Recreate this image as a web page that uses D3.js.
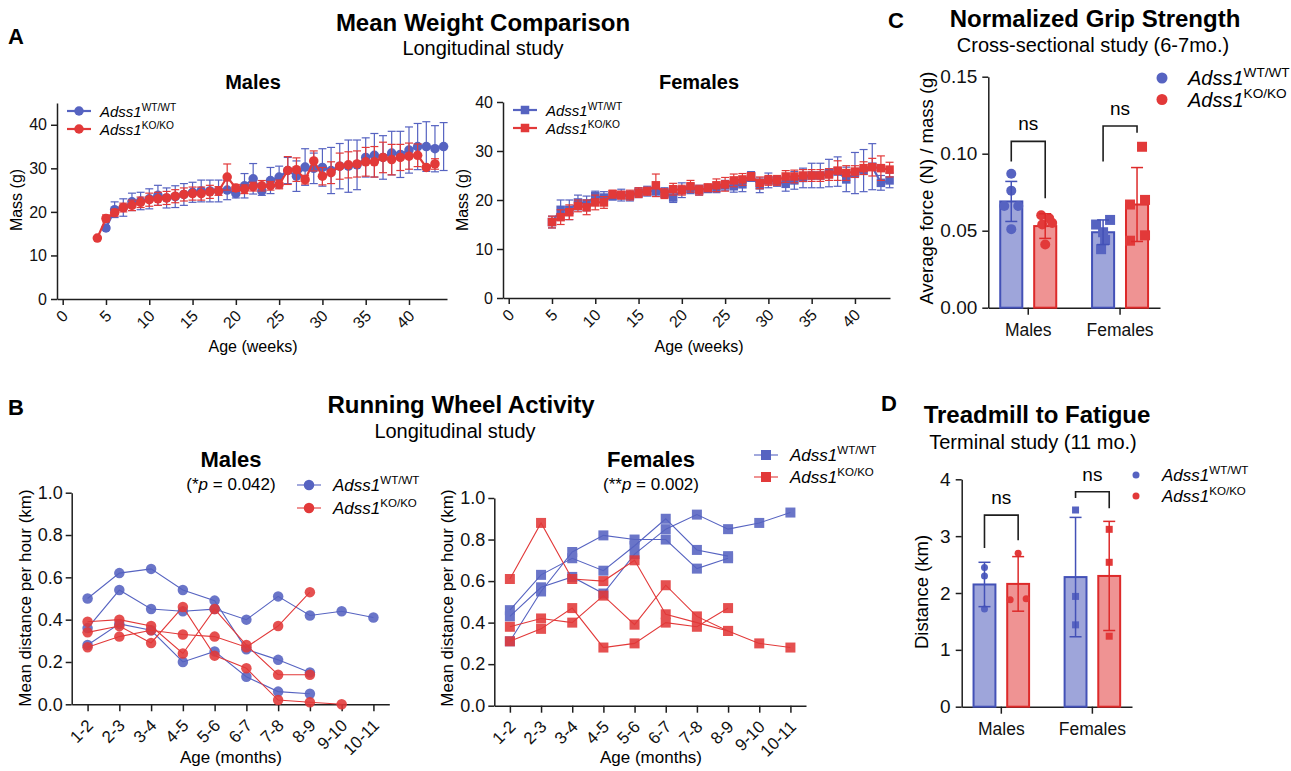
<!DOCTYPE html>
<html>
<head>
<meta charset="utf-8">
<title>Adss1 phenotype panels</title>
<style>
  body { margin: 0; background: #fff; }
  svg { font-family: "Liberation Sans", Arial, Helvetica, sans-serif; }
</style>
<script src="https://cdn.jsdelivr.net/npm/d3@7"></script>
</head>
<body>
<script>
// ---------------- data ----------------
var genotypes = ["WT/WT", "KO/KO"];
var weekTicks = [0, 5, 10, 15, 20, 25, 30, 35, 40];

// A - mean weight (g), males
var maleWtWeeks = d3.range(5, 45);
var maleWtMass = [16.3, 20.5, 21, 22.3, 22.5, 23, 23.8, 23.2, 23.5, 24,
                  24.5, 24.8, 24.8, 24.8, 25, 24.2, 26, 27.6, 24.8, 27.2,
                  28, 29.5, 28.2, 30.3, 30, 30.2, 29.5, 30.5, 30.5, 30.8,
                  32.5, 33, 32.5, 33.5, 33.2, 34.2, 35, 35, 34.5, 35];
var maleWtSd = [0.5, 1.8, 2.0, 2.0, 2.0, 2.3, 2.3, 2.3, 2.5, 2.5,
                2.3, 2.5, 2.5, 2.5, 2.2, 1.0, 2.8, 3.5, 1.0, 3.0,
                2.5, 3.0, 3.5, 4.2, 3.5, 4.3, 5.3, 5.2, 6.0, 5.7,
                4.5, 5.0, 5.0, 5.0, 5.3, 5.3, 5.3, 5.7, 5.3, 5.5];
var maleKoWeeks = d3.range(4, 44);
var maleKoMass = [14, 18.5, 19.8, 21, 21.5, 22.2, 22.8, 23, 23.2, 23.6,
                  24, 24.2, 24.2, 24.6, 24.8, 28, 25.5, 25.2, 25.8, 26,
                  26, 26.3, 29.5, 29.7, 27.4, 31.7, 28.2, 29, 30.5, 30.8,
                  31, 31.5, 31.5, 32.5, 32, 32.5, 32.8, 33, 30.2, 31];
var maleKoSd = [0, 0.8, 0.8, 1.0, 1.2, 1.2, 1.5, 1.5, 1.5, 1.5,
                1.5, 1.5, 1.5, 1.5, 1.0, 3.0, 0.8, 1.0, 1.0, 1.2,
                1.0, 1.0, 3.2, 2.7, 1.0, 2.3, 2.0, 2.5, 3.0, 3.0,
                3.0, 3.3, 3.5, 3.5, 3.5, 3.0, 3.0, 2.6, 0.5, 1.2];

// A - mean weight (g), females
var femaleWeeks = d3.range(5, 45);
var femaleWtMass = [15.5, 18, 18, 19.5, 19.3, 20.8, 20.5, 20.8, 21, 20.8,
                    21.5, 21.8, 21.8, 21.5, 20.5, 22, 22.3, 22, 22.3, 22.5,
                    23, 22.8, 23.2, 24.8, 23, 24, 23.8, 23.3, 24, 24.5,
                    25, 25, 25.5, 25.8, 24.2, 25.5, 26, 26.8, 23.5, 24];
var femaleWtSd = [1.2, 2.0, 2.0, 1.5, 1.5, 1.0, 1.2, 0.8, 1.2, 1.0,
                  1.0, 1.0, 1.0, 1.0, 1.0, 1.5, 1.0, 1.0, 0.8, 1.0,
                  1.0, 1.2, 1.5, 1.0, 1.5, 1.5, 1.0, 1.5, 1.8, 2.0,
                  2.5, 2.5, 2.8, 3.0, 2.5, 4.2, 4.3, 4.7, 1.5, 1.5];
var femaleKoMass = [15.5, 16.5, 17.5, 18.8, 18.5, 19.5, 19.5, 21.2, 21, 21,
                    21.5, 21.8, 23, 21.3, 22.2, 22, 22.8, 22, 22.5, 23,
                    23.2, 24, 24.2, 24.8, 23.5, 24, 24, 24.8, 24.8, 25,
                    25, 25, 25.2, 26, 25.5, 25.8, 26.5, 26.7, 26.5, 26.2];
var femaleKoSd = [1.2, 1.5, 1.5, 1.2, 1.5, 1.5, 1.2, 0.8, 0.8, 1.0,
                  1.0, 0.8, 2.3, 1.0, 1.2, 1.0, 1.2, 1.0, 0.8, 1.3,
                  1.4, 1.3, 1.2, 0.8, 1.2, 1.0, 1.0, 1.2, 1.3, 1.2,
                  1.2, 1.2, 1.2, 2.0, 1.5, 1.2, 1.3, 1.8, 2.5, 1.5];

// B - running wheel, mean km per hour, one array per animal
var monthLabels = ["1-2", "2-3", "3-4", "4-5", "5-6", "6-7", "7-8", "8-9", "9-10", "10-11"];
var wheelMaleWt = [
  [0.50, 0.62, 0.64, 0.54, 0.49, 0.26, 0.21, 0.15],
  [0.36, 0.54, 0.45, 0.44, 0.45, 0.40, 0.51, 0.42, 0.44, 0.41],
  [0.28, 0.38, 0.35, 0.20, 0.25, 0.13, 0.06, 0.05]
];
var wheelMaleKo = [
  [0.39, 0.40, 0.37, 0.24, 0.45, 0.28, 0.14, 0.14],
  [0.34, 0.37, 0.29, 0.46, 0.23, 0.17, 0.02, 0.01, 0.00],
  [0.27, 0.32, 0.35, 0.33, 0.32, 0.27, 0.37, 0.53]
];
var wheelFemaleWt = [
  [0.46, 0.63, 0.71, 0.65, 0.77, 0.90, 0.75, 0.72],
  [0.43, 0.57, 0.62, 0.54, 0.73, 0.85, 0.92, 0.85, 0.88, 0.93],
  [0.31, 0.55, 0.74, 0.82, 0.80, 0.80, 0.66, 0.71]
];
var wheelFemaleKo = [
  [0.61, 0.88, 0.61, 0.60, 0.70, 0.44, 0.40, 0.36, 0.30, 0.28],
  [0.38, 0.42, 0.40, 0.53, 0.39, 0.58, 0.43, 0.36],
  [0.31, 0.37, 0.47, 0.28, 0.30, 0.40, 0.38, 0.47]
];

// C - grip strength, N / g
var sexGroups = ["Males", "Females"];
var gripMeanWt = [0.069, 0.049];
var gripMeanKo = [0.053, 0.067];
var gripSdWt = [0.013, 0.008];
var gripSdKo = [0.008, 0.024];
var gripPtsWt = [[0.087, 0.076, 0.066, 0.066, 0.051], [0.054, 0.057, 0.049, 0.044, 0.038]];
var gripPtsKo = [[0.060, 0.058, 0.054, 0.055, 0.041], [0.1045, 0.067, 0.070, 0.047, 0.0435]];
var gripBracketTop = [0.108, 0.118];
var gripBracketLeft = [0.095, 0.095];
var gripBracketRight = [0.071, 0.1136];
var gripTicks = [0, 0.05, 0.10, 0.15];

// D - treadmill distance, km
var treadMeanWt = [2.15, 2.28];
var treadMeanKo = [2.16, 2.30];
var treadSdWt = [0.39, 1.05];
var treadSdKo = [0.48, 0.96];
var treadPtsWt = [[2.45, 2.30, 1.72], [3.46, 1.94, 1.44]];
var treadPtsKo = [[2.70, 1.88, 1.90], [3.12, 2.54, 1.24]];
var treadBracketTop = [3.37, 3.78];
var treadBracketLeft = [2.79, 3.67];
var treadBracketRight = [2.93, 3.49];
var treadTicks = [0, 1, 2, 3, 4];

// ---------------- styles ----------------
var BLUE = "#5663c1", RED = "#e23939";
var BLUE_FILL = "#9ea5da", RED_FILL = "#ef9393";
var BLUE_EDGE = "#4351b7", RED_EDGE = "#dd2a2a";
var INK = "#1e1e1e";

var svg = d3.select("body").append("svg")
    .attr("width", 1291)
    .attr("height", 771);

function addText(x, y, str, size, weight, anchor) {
    return svg.append("text")
        .attr("x", x).attr("y", y)
        .attr("font-size", size)
        .attr("font-weight", weight || "normal")
        .attr("text-anchor", anchor || "middle")
        .attr("fill", "#000")
        .text(str);
}

function yTitle(cx, cy, str, size) {
    svg.append("text")
        .attr("transform", "translate(" + cx + "," + cy + ") rotate(-90)")
        .attr("dy", "0.35em")
        .attr("text-anchor", "middle")
        .attr("font-size", size)
        .text(str);
}

function legendLabel(x, y, sup, size) {
    var t = svg.append("text").attr("x", x).attr("y", y).attr("font-size", size);
    t.append("tspan").style("font-style", "italic").text("Adss1");
    t.append("tspan").attr("dy", -size * 0.42).attr("font-size", size * 0.68).text(sup);
}

function styleAxis(g, size) {
    g.attr("font-family", null).attr("font-size", size);
    g.select(".domain").attr("stroke", INK).attr("stroke-width", 1.5);
    g.selectAll(".tick line").attr("stroke", INK).attr("stroke-width", 1.5);
    g.selectAll(".tick text").attr("fill", "#111");
}

function rotateTicks(g, dx, dy) {
    g.selectAll(".tick text")
        .attr("x", 0).attr("y", 0).attr("dy", "0.35em")
        .attr("text-anchor", "end")
        .attr("transform", "translate(" + dx + "," + dy + ") rotate(-45)");
}

function marker(g, shape, cx, cy, size, color) {
    if (shape === "circle") {
        g.append("circle").attr("cx", cx).attr("cy", cy).attr("r", size / 2).attr("fill", color);
    } else {
        g.append("rect").attr("x", cx - size / 2).attr("y", cy - size / 2)
            .attr("width", size).attr("height", size).attr("fill", color);
    }
}

// ---------------- titles ----------------
addText(8, 44, "A", 22, "bold", "start");
addText(483, 31, "Mean Weight Comparison", 24, "bold");
addText(483, 55, "Longitudinal study", 20);
addText(8, 415, "B", 22, "bold", "start");
addText(461, 413, "Running Wheel Activity", 24, "bold");
addText(455, 438, "Longitudinal study", 20);
addText(888, 28, "C", 22, "bold", "start");
addText(1095, 27, "Normalized Grip Strength", 24, "bold");
addText(1093, 52, "Cross-sectional study (6-7mo.)", 20);
addText(881, 411, "D", 22, "bold", "start");
addText(1037, 423, "Treadmill to Fatigue", 24, "bold");
addText(1033, 449, "Terminal study (11 mo.)", 20);

// ---------------- A: weight panels ----------------
function weightPanel(o) {
    var x = d3.scaleLinear().domain(o.xDomain).range(o.xRange);
    var y = d3.scaleLinear().domain(o.yDomain).range([o.yBottom, o.yTop]);

    var gx = svg.append("g")
        .attr("transform", "translate(0," + o.yBottom + ")")
        .call(d3.axisBottom(x).tickValues(weekTicks).tickSize(6).tickSizeOuter(0));
    styleAxis(gx, 16);
    rotateTicks(gx, 2, 14);

    var gy = svg.append("g")
        .attr("transform", "translate(" + o.xRange[0] + ",0)")
        .call(d3.axisLeft(y).tickValues([0, 10, 20, 30, 40]).tickSize(6).tickPadding(4).tickSizeOuter(0));
    styleAxis(gy, 16);

    o.series.forEach(function (s) {
        var g = svg.append("g");
        s.mass.forEach(function (m, i) {
            var cx = x(s.weeks[i]);
            if (s.sd[i] > 0) {
                g.append("line").attr("x1", cx).attr("x2", cx)
                    .attr("y1", y(m - s.sd[i])).attr("y2", y(m + s.sd[i]))
                    .attr("stroke", s.color).attr("stroke-width", 1.2);
                [m - s.sd[i], m + s.sd[i]].forEach(function (v) {
                    g.append("line").attr("x1", cx - 4).attr("x2", cx + 4)
                        .attr("y1", y(v)).attr("y2", y(v))
                        .attr("stroke", s.color).attr("stroke-width", 1.2);
                });
            }
        });
        g.append("path")
            .datum(s.mass)
            .attr("fill", "none").attr("stroke", s.color).attr("stroke-width", 2.2)
            .attr("d", d3.line().x(function (d, i) { return x(s.weeks[i]); }).y(function (d) { return y(d); }));
        s.mass.forEach(function (m, i) {
            marker(g, o.shape, x(s.weeks[i]), y(m), o.shape === "circle" ? 9.5 : 8.5, s.color);
        });
    });

    addText(o.titleX, 89, o.title, 20, "bold");
    addText(o.titleX, 352, "Age (weeks)", 16);
    yTitle(o.yTitleX, 200, "Mass (g)", 16);

    // legend
    o.series.forEach(function (s, i) {
        var ly = o.legendY[i];
        svg.append("line").attr("x1", o.legendX).attr("x2", o.legendX + 24)
            .attr("y1", ly).attr("y2", ly).attr("stroke", s.color).attr("stroke-width", 2.2);
        marker(svg, o.shape, o.legendX + 12, ly, o.shape === "circle" ? 9.5 : 8.5, s.color);
        legendLabel(o.legendX + 33, ly + 6, genotypes[i], 15);
    });
}

weightPanel({
    xDomain: [-0.658, 44.39], xRange: [57, 447],
    yDomain: [0, 45], yBottom: 299, yTop: 103,
    shape: "circle", title: "Males", titleX: 253, yTitleX: 16,
    legendX: 67, legendY: [111, 129],
    series: [
        { weeks: maleWtWeeks, mass: maleWtMass, sd: maleWtSd, color: BLUE },
        { weeks: maleKoWeeks, mass: maleKoMass, sd: maleKoSd, color: RED }
    ]
});

weightPanel({
    xDomain: [-0.66, 44.05], xRange: [503, 890],
    yDomain: [0, 40], yBottom: 298, yTop: 102,
    shape: "square", title: "Females", titleX: 699, yTitleX: 462,
    legendX: 513, legendY: [110, 128],
    series: [
        { weeks: femaleWeeks, mass: femaleWtMass, sd: femaleWtSd, color: BLUE },
        { weeks: femaleWeeks, mass: femaleKoMass, sd: femaleKoSd, color: RED }
    ]
});

// ---------------- B: running wheel ----------------
function wheelPanel(o) {
    var x = d3.scalePoint().domain(monthLabels).range(o.xRange).padding(0.5);
    var y = d3.scaleLinear().domain([0, 1]).range([o.yBottom, o.yTop]);

    var gx = svg.append("g")
        .attr("transform", "translate(0," + o.yBottom + ")")
        .call(d3.axisBottom(x).tickSize(7).tickSizeOuter(0));
    styleAxis(gx, 17);
    rotateTicks(gx, 2, 18);

    var gy = svg.append("g")
        .attr("transform", "translate(" + o.xRange[0] + ",0)")
        .call(d3.axisLeft(y).tickValues([0, 0.2, 0.4, 0.6, 0.8, 1.0]).tickFormat(d3.format(".1f"))
            .tickSize(6).tickPadding(3).tickSizeOuter(0));
    styleAxis(gy, 18);

    var line = d3.line()
        .defined(function (d) { return d != null; })
        .x(function (d, i) { return x(monthLabels[i]); })
        .y(function (d) { return y(d); });

    [[o.wt, BLUE], [o.ko, RED]].forEach(function (pair) {
        var g = svg.append("g");
        pair[0].forEach(function (animal) {
            g.append("path").datum(animal)
                .attr("fill", "none").attr("stroke", pair[1]).attr("stroke-width", 1.1)
                .attr("d", line);
        });
        var mg = g.append("g").attr("opacity", 0.88);
        pair[0].forEach(function (animal) {
            animal.forEach(function (v, i) {
                marker(mg, o.shape, x(monthLabels[i]), y(v), o.shape === "circle" ? 10.5 : 10, pair[1]);
            });
        });
    });

    addText(o.titleX, 467, o.title, 22, "bold");
    var p = svg.append("text").attr("x", o.titleX).attr("y", 490)
        .attr("text-anchor", "middle").attr("font-size", 17);
    p.append("tspan").text("(" + o.stars);
    p.append("tspan").style("font-style", "italic").text("p");
    p.append("tspan").text(" = " + o.pval + ")");

    addText(o.titleX, 763, "Age (months)", 17);
    yTitle(o.yTitleX, 598, "Mean distance per hour (km)", 17);

    [BLUE, RED].forEach(function (c, i) {
        var ly = o.legendY[i];
        svg.append("line").attr("x1", o.legendX).attr("x2", o.legendX + 24)
            .attr("y1", ly).attr("y2", ly).attr("stroke", c).attr("stroke-width", 1.1);
        marker(svg, o.shape, o.legendX + 12, ly, o.shape === "circle" ? 10.5 : 10, c);
        legendLabel(o.legendX + 36, ly + 6, genotypes[i], 17);
    });
}

wheelPanel({
    xRange: [71.7, 389.3], yBottom: 704.3, yTop: 492.7,
    wt: wheelMaleWt, ko: wheelMaleKo, shape: "circle",
    title: "Males", stars: "*", pval: "0.042", titleX: 231, yTitleX: 25,
    legendX: 297, legendY: [485, 508]
});

wheelPanel({
    xRange: [494.3, 806], yBottom: 705.7, yTop: 498,
    wt: wheelFemaleWt, ko: wheelFemaleKo, shape: "square",
    title: "Females", stars: "**", pval: "0.002", titleX: 651, yTitleX: 447,
    legendX: 754, legendY: [455, 477]
});

// ---------------- C / D: bar panels ----------------
function barPanel(o) {
    var xg = d3.scaleBand().domain(sexGroups).range(o.xRange).paddingInner(0.39).paddingOuter(0.13);
    var xs = d3.scaleBand().domain(genotypes).range([0, xg.bandwidth()]).paddingInner(0.35);
    var y = d3.scaleLinear().domain(o.yDomain).range([o.yBottom, o.yTop]);

    var gx = svg.append("g")
        .attr("transform", "translate(0," + o.yBottom + ")")
        .call(d3.axisBottom(xg).tickSize(7).tickPadding(8).tickSizeOuter(0));
    styleAxis(gx, 17.5);
    gx.selectAll(".tick text").attr("dy", "0.75em");

    var gy = svg.append("g")
        .attr("transform", "translate(" + o.xRange[0] + ",0)")
        .call(d3.axisLeft(y).tickValues(o.ticks).tickFormat(o.fmt).tickSize(6).tickPadding(5).tickSizeOuter(0));
    styleAxis(gy, 19);

    var sets = [
        { mean: o.meanWt, sd: o.sdWt, pts: o.ptsWt, fill: BLUE_FILL, edge: BLUE_EDGE, dot: BLUE, jit: o.jitWt },
        { mean: o.meanKo, sd: o.sdKo, pts: o.ptsKo, fill: RED_FILL, edge: RED_EDGE, dot: RED, jit: o.jitKo }
    ];
    var cx = function (gi, k) { return xg(sexGroups[gi]) + xs(genotypes[k]) + xs.bandwidth() / 2; };

    sets.forEach(function (s, k) {
        sexGroups.forEach(function (sex, gi) {
            var g = svg.append("g");
            g.append("rect")
                .attr("x", xg(sex) + xs(genotypes[k]))
                .attr("y", y(s.mean[gi]))
                .attr("width", xs.bandwidth())
                .attr("height", o.yBottom - y(s.mean[gi]))
                .attr("fill", s.fill).attr("stroke", s.edge).attr("stroke-width", 2);
            var shape = gi === 0 ? "circle" : "square";
            s.pts[gi].forEach(function (v, j) {
                marker(g, shape, cx(gi, k) + s.jit[gi][j], y(v), o.dotSize, s.dot);
            });
            var c = cx(gi, k);
            g.append("line").attr("x1", c).attr("x2", c)
                .attr("y1", y(s.mean[gi] - s.sd[gi])).attr("y2", y(s.mean[gi] + s.sd[gi]))
                .attr("stroke", s.edge).attr("stroke-width", 1.5);
            [s.mean[gi] - s.sd[gi], s.mean[gi] + s.sd[gi]].forEach(function (v) {
                g.append("line").attr("x1", c - 6).attr("x2", c + 6)
                    .attr("y1", y(v)).attr("y2", y(v))
                    .attr("stroke", s.edge).attr("stroke-width", 1.5);
            });
        });
    });

    // significance brackets
    sexGroups.forEach(function (sex, gi) {
        var x1 = cx(gi, 0), x2 = cx(gi, 1), yt = y(o.brTop[gi]);
        svg.append("path")
            .attr("d", "M" + x1 + "," + y(o.brLeft[gi]) + "V" + yt + "H" + x2 + "V" + y(o.brRight[gi]))
            .attr("fill", "none").attr("stroke", INK).attr("stroke-width", 1.6);
        addText((x1 + x2) / 2, yt - 11, "ns", 19);
    });

    addText(o.catCenter, o.yBottom, "", 1);
    yTitle(o.yTitleX, o.yTitleY, o.yTitle, 18.5);

    [BLUE, RED].forEach(function (c, i) {
        svg.append("circle").attr("cx", o.legendX).attr("cy", o.legendY[i]).attr("r", o.legendR).attr("fill", c);
        legendLabel(o.legendTextX, o.legendY[i] + o.legendSize * 0.36, genotypes[i], o.legendSize);
    });
}

barPanel({
    xRange: [988.3, 1160], yDomain: [0, 0.15], yBottom: 307.7, yTop: 76.7,
    ticks: gripTicks, fmt: d3.format(".2f"),
    meanWt: gripMeanWt, meanKo: gripMeanKo, sdWt: gripSdWt, sdKo: gripSdKo,
    ptsWt: gripPtsWt, ptsKo: gripPtsKo,
    jitWt: [[0, 0, -7, 7, 0], [-7, 7, 0, 2, -2]],
    jitKo: [[-4, 4, -3, 7, 0], [5, -7, 8, 8, -7]],
    dotSize: 10,
    brTop: gripBracketTop, brLeft: gripBracketLeft, brRight: gripBracketRight,
    yTitle: "Average force (N) / mass (g)", yTitleX: 927, yTitleY: 188,
    legendX: 1162, legendY: [78, 99.5], legendR: 5.5, legendTextX: 1188, legendSize: 20
});

barPanel({
    xRange: [961.7, 1132], yDomain: [0, 4], yBottom: 706.7, yTop: 479.3,
    ticks: treadTicks, fmt: d3.format("d"),
    meanWt: treadMeanWt, meanKo: treadMeanKo, sdWt: treadSdWt, sdKo: treadSdKo,
    ptsWt: treadPtsWt, ptsKo: treadPtsKo,
    jitWt: [[0, 0, 0], [0, 0, 0]],
    jitKo: [[0, -8, 8], [0, 0, 0]],
    dotSize: 7,
    brTop: treadBracketTop, brLeft: treadBracketLeft, brRight: treadBracketRight,
    yTitle: "Distance (km)", yTitleX: 922, yTitleY: 592,
    legendX: 1136, legendY: [475, 496], legendR: 3.5, legendTextX: 1162, legendSize: 17
});
</script>
</body>
</html>
